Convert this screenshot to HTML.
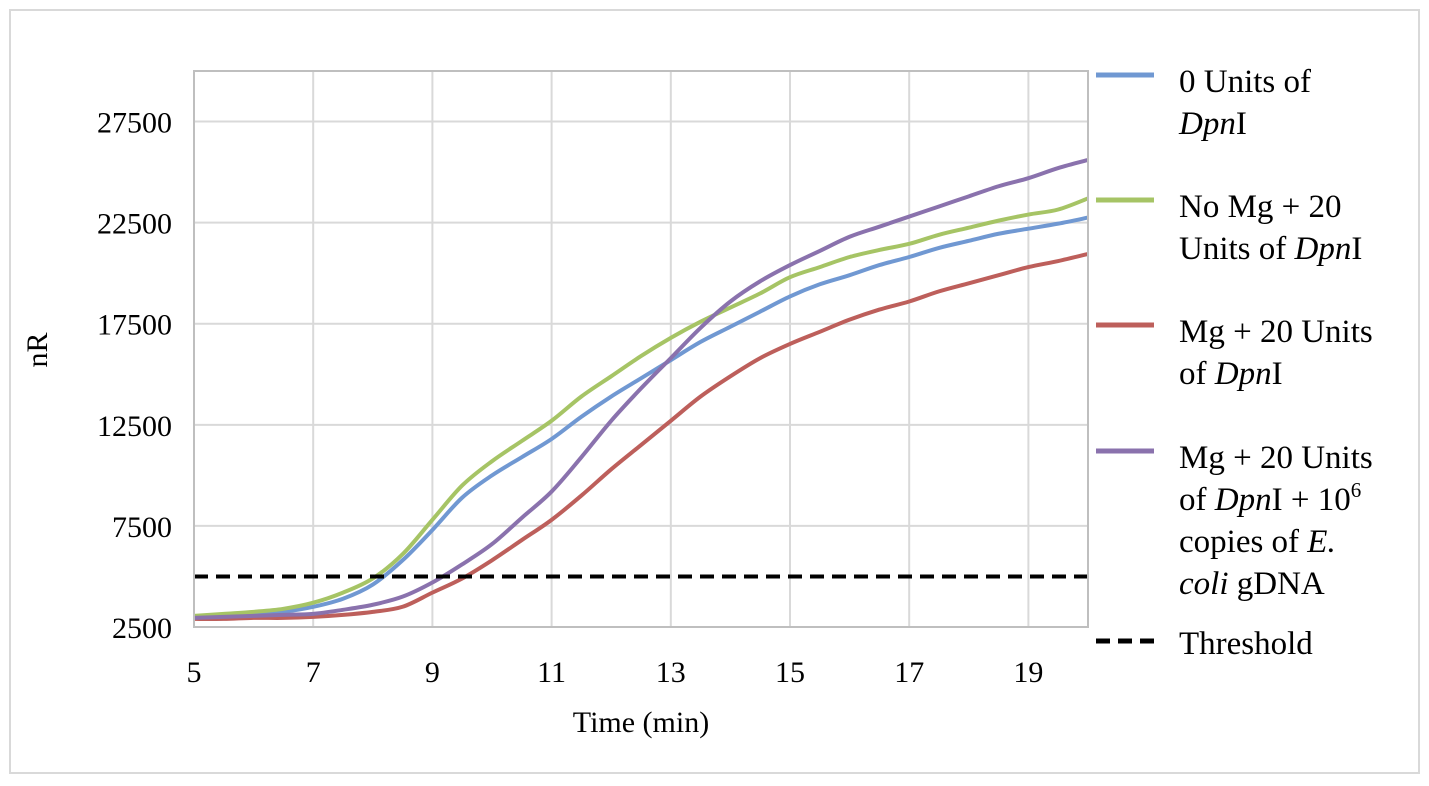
<!DOCTYPE html>
<html><head><meta charset="utf-8"><style>
body{margin:0;background:#fff;}
svg{display:block;font-family:"Liberation Serif",serif;}
</style></head><body>
<svg id="chart" width="1429" height="786">
<rect x="10" y="10" width="1409" height="763" fill="#fff" stroke="#d9d9d9" stroke-width="2"/>
<g id="grid"></g>
<g id="series"></g>
<g id="axes"></g>
<g id="legend" font-size="33" fill="#000">
<line x1="1096" y1="75" x2="1154" y2="75" stroke="#7098d2" stroke-width="5"/>
<text x="1179" y="92">0 Units of</text>
<text x="1179" y="134"><tspan font-style="italic">Dpn</tspan>I</text>
<line x1="1096" y1="200" x2="1154" y2="200" stroke="#a6c465" stroke-width="5"/>
<text x="1179" y="217">No Mg + 20</text>
<text x="1179" y="259">Units of <tspan font-style="italic">Dpn</tspan>I</text>
<line x1="1096" y1="325" x2="1154" y2="325" stroke="#bd5f5b" stroke-width="5"/>
<text x="1179" y="342">Mg + 20 Units</text>
<text x="1179" y="384">of <tspan font-style="italic">Dpn</tspan>I</text>
<line x1="1096" y1="451" x2="1154" y2="451" stroke="#8a72ad" stroke-width="5"/>
<text x="1179" y="468">Mg + 20 Units</text>
<text x="1179" y="510">of <tspan font-style="italic">Dpn</tspan>I + 10<tspan font-size="21" dy="-13">6</tspan></text>
<text x="1179" y="552">copies of <tspan font-style="italic">E.</tspan></text>
<text x="1179" y="594"><tspan font-style="italic">coli</tspan> gDNA</text>
<line x1="1096" y1="641" x2="1154" y2="641" stroke="#000" stroke-width="5" stroke-dasharray="14,8"/>
<text x="1179" y="654">Threshold</text>
</g>
</svg>
<script>
const times=[5,5.5,6,6.5,7,7.5,8,8.5,9,9.5,10,10.5,11,11.5,12,12.5,13,13.5,14,14.5,15,15.5,16,16.5,17,17.5,18,18.5,19,19.5,20];
const blueVals=[3000,3050,3100,3250,3500,3900,4600,5800,7300,8900,10000,10900,11800,12900,13900,14800,15700,16600,17350,18100,18850,19450,19900,20400,20800,21250,21600,21950,22200,22450,22750];
const greenVals=[3050,3150,3250,3400,3700,4200,4900,6100,7800,9500,10700,11700,12700,13900,14900,15900,16800,17600,18300,19000,19800,20300,20800,21150,21450,21900,22250,22600,22900,23150,23700];
const redVals=[2900,2900,2950,2950,3000,3100,3250,3500,4200,4900,5800,6800,7800,9000,10300,11500,12700,13900,14900,15800,16500,17100,17700,18200,18600,19100,19500,19900,20300,20600,20950];
const purpleVals=[2950,3000,3050,3100,3150,3350,3600,4000,4700,5600,6600,7900,9200,10900,12700,14300,15800,17300,18600,19600,20400,21100,21800,22300,22800,23300,23800,24300,24700,25200,25600];
const thresholdVal=5000;
const xTicks=[5,7,9,11,13,15,17,19];
const yTicks=[2500,7500,12500,17500,22500,27500];
const yGrid=[2500,7500,12500,17500,22500,27500];
const NS='http://www.w3.org/2000/svg';
const L=194,R=1088,T=71,B=627;
const xs=t=>L+(t-5)/15*(R-L);
const ys=v=>B-(v-2500)/27500*(B-T);
function mk(tag,attrs,parent){const e=document.createElementNS(NS,tag);for(const k in attrs)e.setAttribute(k,attrs[k]);parent.appendChild(e);return e;}
const grid=document.getElementById('grid'),axes=document.getElementById('axes'),ser=document.getElementById('series');
for(let t=7;t<=19;t+=2){const l=mk('line',{x1:xs(t),x2:xs(t),y1:T,y2:B,stroke:'#d9d9d9','stroke-width':2},grid);

}
yGrid.forEach(v=>{const l=mk('line',{x1:L,x2:R,y1:ys(v),y2:ys(v),stroke:'#d9d9d9','stroke-width':2},grid);

});
const frame=mk('rect',{x:L,y:T,width:R-L,height:B-T,fill:'none',stroke:'#bfbfbf','stroke-width':2},axes);


xTicks.forEach(t=>{const e=mk('text',{x:xs(t),y:B+55,'text-anchor':'middle','font-size':30},axes);e.textContent=t;

});
yTicks.forEach(v=>{const e=mk('text',{x:172,y:ys(v)+11,'text-anchor':'end','font-size':30},axes);e.textContent=v;

});
const xt=mk('text',{x:641,y:732,'text-anchor':'middle','font-size':30},axes);xt.textContent='Time (min)';


const yt=mk('text',{x:0,y:0,'text-anchor':'middle','font-size':30,transform:'translate(47,350) rotate(-90)'},axes);yt.textContent='nR';


function path(vals){const p=times.map((t,i)=>[xs(t),ys(vals[i])]);let d='M'+p[0][0]+','+p[0][1];
for(let i=0;i<p.length-1;i++){const p0=p[Math.max(0,i-1)],p1=p[i],p2=p[i+1],p3=p[Math.min(p.length-1,i+2)];
d+=` C${p1[0]+(p2[0]-p0[0])/6},${p1[1]+(p2[1]-p0[1])/6} ${p2[0]-(p3[0]-p1[0])/6},${p2[1]-(p3[1]-p1[1])/6} ${p2[0]},${p2[1]}`;}return d;}
[[blueVals,'#7098d2','series-0-units'],[greenVals,'#a6c465','series-no-mg'],[redVals,'#bd5f5b','series-mg'],[purpleVals,'#8a72ad','series-mg-ecoli']].forEach(s=>{
const e=mk('path',{d:path(s[0]),fill:'none',stroke:s[1],'stroke-width':4},ser);

});
const th=mk('line',{x1:L,x2:R,y1:ys(thresholdVal),y2:ys(thresholdVal),stroke:'#000','stroke-width':4,'stroke-dasharray':'14,8'},ser);


</script>
</body></html>
